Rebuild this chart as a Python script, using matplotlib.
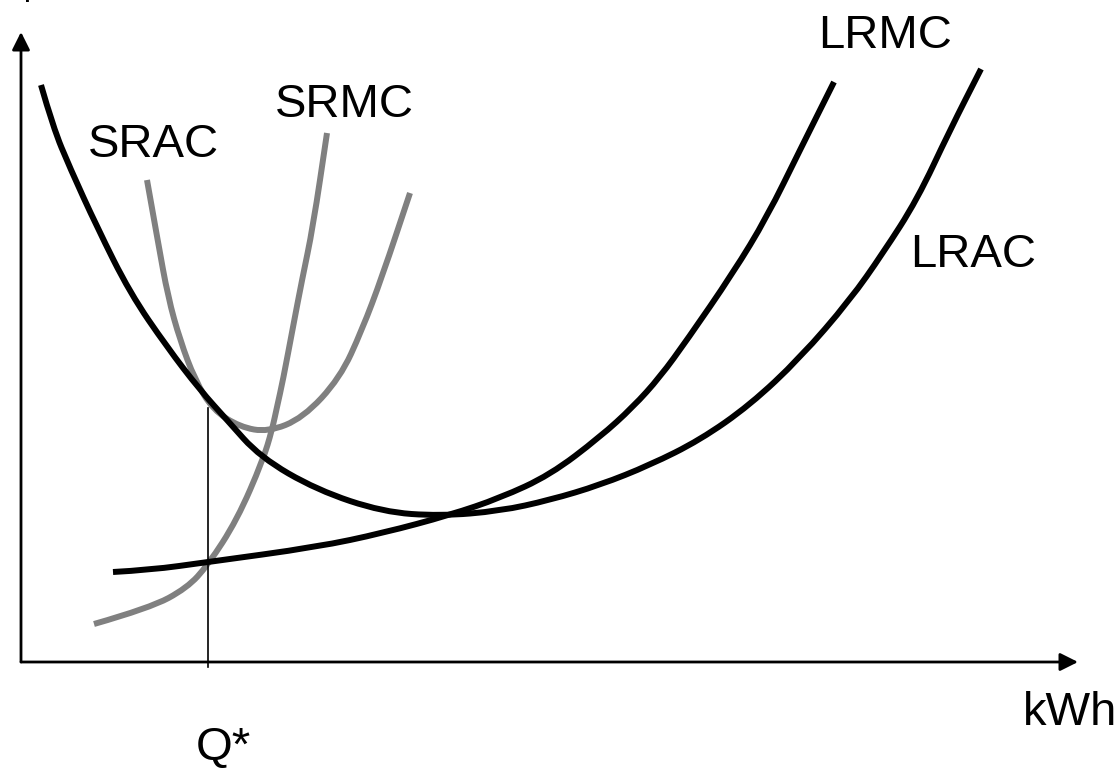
import matplotlib
matplotlib.use("Agg")
import matplotlib.pyplot as plt
from matplotlib.path import Path
from matplotlib.patches import PathPatch

plt.rcParams["font.family"] = ["Liberation Sans", "DejaVu Sans"]

# quantity (kWh) and cost, origin at the axes corner
lrac_q = [20, 32, 49, 76, 109, 146, 179, 206, 239, 296, 362, 419, 479, 529, 579, 629, 679, 729, 779, 829, 862, 896, 929, 960]
lrac_c = [577, 535, 494, 435, 369, 315, 272, 242, 205, 172, 150, 146, 151, 162, 177, 197, 222, 257, 304, 362, 409, 462, 532, 593]

lrmc_q = [92, 129, 187, 296, 362, 429, 479, 529, 579, 612, 639, 666, 712, 746, 779, 813]
lrmc_c = [90, 92, 100, 115, 129, 147, 164, 187, 225, 255, 285, 322, 389, 445, 512, 580]

srac_q = [126, 137, 147, 159, 174, 192, 219, 247, 282, 319, 341, 361, 389]
srac_c = [482, 420, 365, 322, 282, 252, 235, 230, 244, 284, 332, 385, 469]

srmc_q = [73, 129, 166, 187, 216, 242, 251, 256, 262, 272, 281, 292, 306]
srmc_c = [38, 54, 74, 97, 142, 202, 232, 255, 282, 335, 382, 435, 529]

q_star = 187
q_star_cost = 254


def smooth_curve(ax, qs, cs, color):
    # quadratic bezier through the midpoints, read points act as controls
    pts = list(zip(qs, cs))
    verts = [pts[0]]
    codes = [Path.MOVETO]
    for i in range(1, len(pts) - 1):
        mid = ((pts[i][0] + pts[i + 1][0]) / 2, (pts[i][1] + pts[i + 1][1]) / 2)
        verts += [pts[i], mid]
        codes += [Path.CURVE3, Path.CURVE3]
    verts.append(pts[-1])
    codes.append(Path.LINETO)
    patch = PathPatch(Path(verts, codes), fill=False, edgecolor=color, lw=4.3,
                      capstyle="butt", joinstyle="round")
    ax.add_patch(patch)


fig = plt.figure(figsize=(11.2, 7.7), dpi=100)
ax = fig.add_axes([0, 0, 1, 1])
ax.set_xlim(-21, 1099)
ax.set_ylim(-108, 662)
ax.axis("off")

# axes with arrow heads
arrow = dict(arrowstyle="-|>", lw=2, color="black", mutation_scale=27, shrinkA=0, shrinkB=0)
ax.annotate("", xy=(1057, 0), xytext=(0, 0), arrowprops=arrow)
ax.annotate("", xy=(0, 630), xytext=(0, 0), arrowprops=arrow)

gray = "#808080"
smooth_curve(ax, srac_q, srac_c, gray)
smooth_curve(ax, srmc_q, srmc_c, gray)
smooth_curve(ax, lrac_q, lrac_c, "black")
smooth_curve(ax, lrmc_q, lrmc_c, "black")

# Q* marker line
ax.plot([q_star, q_star], [-5, q_star_cost], color="black", lw=1.2)

fs = 34
ax.text(67, 505, "SRAC", fontsize=fs, ha="left", va="baseline")
ax.text(254, 545, "SRMC", fontsize=fs, ha="left", va="baseline")
ax.text(797, 614, "LRMC", fontsize=fs, ha="left", va="baseline")
ax.text(889, 395, "LRAC", fontsize=fs, ha="left", va="baseline")
ax.text(1002, -63, "kWh", fontsize=fs, ha="left", va="baseline")
ax.text(175, -98, "Q*", fontsize=fs, ha="left", va="baseline")
ax.text(-8, 663, "$/kWh", fontsize=fs, ha="left", va="baseline")

fig.savefig("out.png", dpi=100)
